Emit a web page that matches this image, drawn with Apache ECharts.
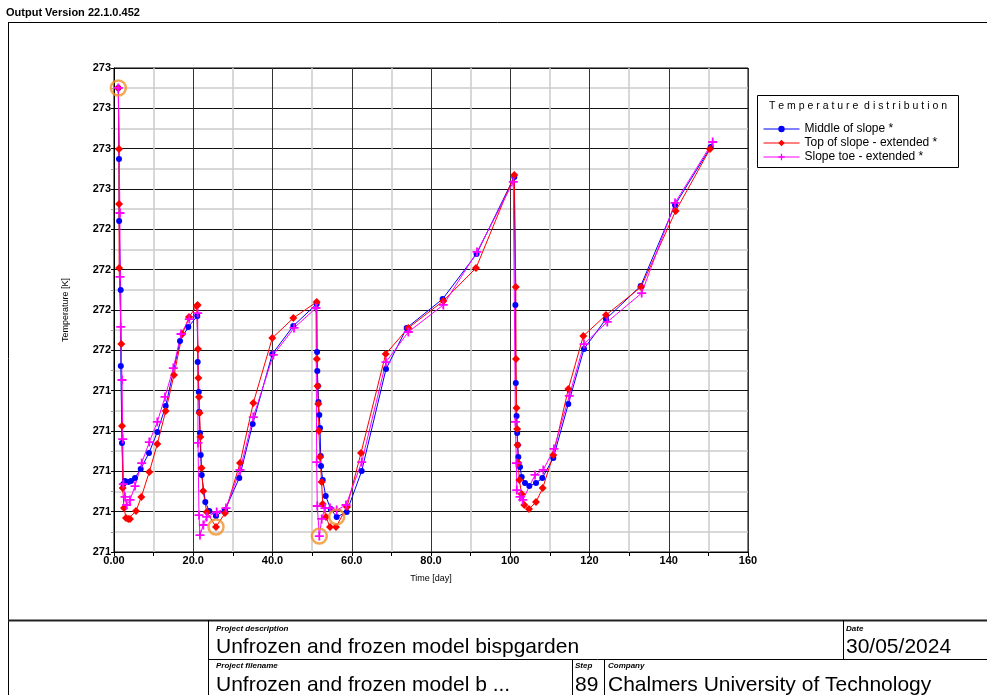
<!DOCTYPE html>
<html>
<head>
<meta charset="utf-8">
<script src="https://cdn.jsdelivr.net/npm/echarts@6/dist/echarts.min.js"></script>
<style>
html, body { margin: 0; padding: 0; background: #ffffff; }
#chart { width: 987px; height: 695px; }
</style>
</head>
<body>
<div id="chart"></div>
<script>
// Temperature history [day, K] for the three monitored points
const middleOfSlope = [
  [1.09,273.301],[1.26,272.949],[1.30,272.641],[1.69,272.299],[1.72,271.922],[2.02,271.541],[2.35,271.337],[2.78,271.352],[3.61,271.347],[4.29,271.352],[5.30,271.367],[6.74,271.412],[8.83,271.491],[10.93,271.595],[13.05,271.724],[16.66,272.046],[18.75,272.116],[21.02,272.170],
  [21.12,271.942],[21.40,271.793],[21.50,271.694],[21.70,271.590],[21.88,271.481],[22.13,271.382],[23.04,271.248],[24.05,271.203],[25.74,271.179],[28.01,271.208],[31.62,271.367],[35.00,271.635],[39.95,271.982],[45.25,272.121],[51.15,272.230],
  [51.25,271.992],[51.31,271.898],[51.48,271.823],[51.60,271.744],[51.81,271.679],[51.99,271.615],[52.16,271.476],[52.24,271.426],[52.67,271.357],[53.43,271.278],[54.69,271.213],[56.20,271.174],[58.73,271.198],[62.51,271.402],[68.64,271.907],[73.87,272.111],[82.95,272.255],[91.50,272.478],[101.02,272.860],
  [101.30,272.225],[101.40,271.838],[101.60,271.674],[101.75,271.590],[101.90,271.531],[102.03,271.471],[102.46,271.421],[102.89,271.372],[103.72,271.342],[104.81,271.327],[106.50,271.342],[108.09,271.367],[110.86,271.466],[114.65,271.734],[118.61,272.007],[124.16,272.155],[132.92,272.319],[141.58,272.721],[150.59,273.008]
];
const topOfSlope = [
  [1.09,273.301],[1.26,272.998],[1.28,272.726],[1.30,272.408],[1.84,272.031],[2.02,271.625],[2.20,271.317],[2.52,271.218],[3.03,271.169],[3.61,271.164],[4.04,271.164],[5.55,271.203],[6.89,271.273],[8.91,271.397],[10.93,271.536],[13.05,271.699],[15.14,271.878],[17.24,272.081],[18.93,272.165],[20.87,272.220],[21.10,272.225],
  [21.20,272.007],[21.30,271.863],[21.45,271.769],[21.60,271.689],[21.80,271.570],[22.10,271.417],[22.50,271.302],[23.40,271.198],[25.74,271.124],[28.01,271.193],[31.80,271.441],[35.15,271.739],[39.95,272.061],[45.25,272.160],[51.15,272.240],
  [51.20,271.957],[51.35,271.823],[51.56,271.734],[51.70,271.600],[52.00,271.471],[52.40,271.347],[52.67,271.238],[53.50,271.174],[54.51,271.124],[56.02,271.124],[58.80,271.223],[62.33,271.491],[68.57,271.982],[74.27,272.111],[83.10,272.245],[91.36,272.408],[101.02,272.869],
  [101.40,272.314],[101.45,271.957],[101.60,271.714],[101.75,271.610],[101.85,271.531],[102.03,271.441],[102.28,271.357],[102.89,271.288],[103.55,271.233],[104.73,271.213],[106.50,271.248],[108.19,271.317],[110.86,271.481],[114.65,271.808],[118.44,272.071],[124.16,272.175],[133.00,272.314],[141.75,272.691],[150.41,272.998]
];
const slopeToe = [
  [1.09,273.301],[1.50,272.681],[1.52,272.364],[1.69,272.116],[2.02,271.853],[2.20,271.560],[2.35,271.337],[2.78,271.273],[3.20,271.233],[4.04,271.258],[5.30,271.327],[6.99,271.441],[8.91,271.545],[10.93,271.645],[12.87,271.769],[14.97,271.912],[16.91,272.081],[19.00,272.155],[21.12,272.185],
  [21.20,271.541],[21.45,271.183],[21.70,271.084],[22.54,271.134],[23.39,271.174],[25.92,271.198],[28.26,271.218],[31.80,271.407],[35.15,271.669],[40.20,271.977],[45.43,272.111],[50.98,272.210],
  [51.15,271.446],[51.30,271.228],[51.81,271.079],[52.42,271.164],[53.25,271.218],[54.51,271.218],[56.20,271.208],[58.55,271.233],[62.51,271.446],[68.64,271.942],[74.27,272.091],[83.10,272.225],[91.61,272.488],[100.77,272.835],
  [101.30,271.645],[101.55,271.441],[101.65,271.307],[102.46,271.273],[103.14,271.258],[106.25,271.382],[108.34,271.407],[111.04,271.511],[114.90,271.774],[118.61,272.031],[124.49,272.141],[133.17,272.284],[141.58,272.731],[151.09,273.033]
];

const seriesNames = ['Middle of slope *', 'Top of slope - extended *', 'Slope toe - extended *'];
const xTickLabels = ['0.00', '20.0', '40.0', '60.0', '80.0', '100', '120', '140', '160'];
const yTickLabels = ['271', '271', '271', '271', '271', '272', '272', '272', '272', '273', '273', '273', '273'];

const X_MIN = 0, X_MAX = 160, X_STEP = 20;
const Y_MIN = 271.0, Y_MAX = 273.4, Y_STEP = 0.2;

const NARROW = '"Liberation Sans Narrow", "Liberation Sans", Arial, sans-serif';
const SANS = '"Liberation Sans", Arial, sans-serif';

// Highlight the overall maximum and each curve's minimum with a ring
function extremes() {
  const all = [middleOfSlope, topOfSlope, slopeToe];
  let maxPt = all[0][0];
  all.forEach(s => s.forEach(p => { if (p[1] > maxPt[1]) maxPt = p; }));
  const pts = [maxPt];
  all.forEach(s => {
    let m = s[0];
    s.forEach(p => { if (p[1] < m[1]) m = p; });
    pts.push(m);
  });
  return pts;
}

const chart = echarts.init(document.getElementById('chart'), null, { renderer: 'canvas' });

const plusSymbol = 'path://M4,0H6V4H10V6H6V10H4V6H0V4H4Z';

function lineSeries(name, data, color, symbol, size) {
  return {
    name: name,
    type: 'line',
    data: data,
    symbol: symbol,
    symbolSize: size,
    showSymbol: true,
    showAllSymbol: true,
    color: color,
    lineStyle: { color: color, width: 1 },
    itemStyle: { color: color },
    emphasis: { disabled: true },
    animation: false
  };
}

const option = {
  animation: false,
  backgroundColor: '#ffffff',
  grid: {
    left: 114, top: 68, width: 634, height: 484,
    show: true, borderColor: '#000000', borderWidth: 1, backgroundColor: '#ffffff',
    containLabel: false, outerBoundsMode: 'none'
  },
  xAxis: {
    type: 'value', min: X_MIN, max: X_MAX, interval: X_STEP,
    name: 'Time [day]', nameLocation: 'middle', nameGap: 22,
    nameTextStyle: { fontFamily: NARROW, fontSize: 9, color: '#000' },
    axisLine: { show: true, lineStyle: { color: '#000', width: 1 } },
    axisTick: { show: true, length: 4, lineStyle: { color: '#000' } },
    minorTick: { show: true, splitNumber: 2, length: 4, lineStyle: { color: '#000' } },
    splitLine: { show: true, lineStyle: { color: '#333333', width: 1 } },
    minorSplitLine: { show: true, lineStyle: { color: '#cccccc', width: 1.5 } },
    axisLabel: {
      margin: 3, fontFamily: NARROW, fontWeight: 'bold', fontSize: 11, color: '#000',
      formatter: v => xTickLabels[Math.round((v - X_MIN) / X_STEP)] || ''
    }
  },
  yAxis: {
    type: 'value', min: Y_MIN, max: Y_MAX, interval: Y_STEP,
    name: 'Temperature [K]', nameLocation: 'middle', nameGap: 44,
    nameTextStyle: { fontFamily: NARROW, fontSize: 9, color: '#000' },
    axisLine: { show: true, lineStyle: { color: '#000', width: 1 } },
    axisTick: { show: true, length: 3, lineStyle: { color: '#000' } },
    minorTick: { show: true, splitNumber: 2, length: 3, lineStyle: { color: '#999' } },
    splitLine: { show: true, lineStyle: { color: '#111111', width: 1 } },
    minorSplitLine: { show: true, lineStyle: { color: '#cccccc', width: 1.5 } },
    axisLabel: {
      margin: 3, fontFamily: NARROW, fontWeight: 'bold', fontSize: 11, color: '#000',
      formatter: v => yTickLabels[Math.round((v - Y_MIN) / Y_STEP)] || ''
    }
  },
  legend: {
    show: true, orient: 'vertical', left: 763, top: 123,
    itemWidth: 36, itemHeight: 8, itemGap: 2, padding: 0,
    data: seriesNames,
    lineStyle: { width: 1 },
    textStyle: { fontFamily: SANS, fontSize: 12, color: '#000' },
    selectedMode: false
  },
  series: [
    lineSeries(seriesNames[0], middleOfSlope, '#0000ff', 'circle', 6),
    lineSeries(seriesNames[1], topOfSlope, '#ff0000', 'diamond', 8),
    lineSeries(seriesNames[2], slopeToe, '#ff00ff', plusSymbol, 9),
    {
      name: 'extremes', type: 'scatter', data: extremes(),
      symbol: 'circle', symbolSize: 15, z: 5,
      itemStyle: { color: 'rgba(0,0,0,0)', borderColor: '#f0922b', borderWidth: 2.5 },
      emphasis: { disabled: true }, animation: false
    }
  ],
  graphic: [
    { type: 'text', left: 6, top: 7, style: { text: 'Output Version 22.1.0.452', font: 'bold 11px ' + NARROW, fill: '#000' } },
    // page frame
    { type: 'line', shape: { x1: 8, y1: 22.5, x2: 987, y2: 22.5 }, style: { stroke: '#000', lineWidth: 1 } },
    { type: 'line', shape: { x1: 8.5, y1: 22, x2: 8.5, y2: 695 }, style: { stroke: '#000', lineWidth: 1 } },
    // legend box
    { type: 'rect', shape: { x: 757.5, y: 95.5, width: 201, height: 72 }, style: { fill: 'none', stroke: '#000', lineWidth: 1 } },
    { type: 'text', x: 858, y: 106, style: { text: 'T e m p e r a t u r e  d i s t r i b u t i o n', font: '10.5px ' + SANS, fill: '#000', textAlign: 'center', textVerticalAlign: 'middle' } },
    // title block
    { type: 'line', shape: { x1: 8, y1: 620.5, x2: 987, y2: 620.5 }, style: { stroke: '#222', lineWidth: 2 } },
    { type: 'line', shape: { x1: 208.5, y1: 620, x2: 208.5, y2: 695 }, style: { stroke: '#000', lineWidth: 1 } },
    { type: 'line', shape: { x1: 208, y1: 659.5, x2: 987, y2: 659.5 }, style: { stroke: '#000', lineWidth: 1 } },
    { type: 'line', shape: { x1: 843.5, y1: 620, x2: 843.5, y2: 659 }, style: { stroke: '#000', lineWidth: 1 } },
    { type: 'line', shape: { x1: 572.5, y1: 659, x2: 572.5, y2: 695 }, style: { stroke: '#000', lineWidth: 1 } },
    { type: 'line', shape: { x1: 604.5, y1: 659, x2: 604.5, y2: 695 }, style: { stroke: '#000', lineWidth: 1 } },
    { type: 'text', x: 216, y: 629, style: { text: 'Project description', font: 'italic bold 8px ' + NARROW, fill: '#000', textVerticalAlign: 'middle' } },
    { type: 'text', x: 216, y: 647, style: { text: 'Unfrozen and frozen model bispgarden', font: '21px ' + SANS, fill: '#000', textVerticalAlign: 'middle' } },
    { type: 'text', x: 846, y: 629, style: { text: 'Date', font: 'italic bold 8px ' + NARROW, fill: '#000', textVerticalAlign: 'middle' } },
    { type: 'text', x: 846, y: 647, style: { text: '30/05/2024', font: '21px ' + SANS, fill: '#000', textVerticalAlign: 'middle' } },
    { type: 'text', x: 216, y: 666, style: { text: 'Project filename', font: 'italic bold 8px ' + NARROW, fill: '#000', textVerticalAlign: 'middle' } },
    { type: 'text', x: 216, y: 685, style: { text: 'Unfrozen and frozen model b ...', font: '21px ' + SANS, fill: '#000', textVerticalAlign: 'middle' } },
    { type: 'text', x: 575, y: 666, style: { text: 'Step', font: 'italic bold 8px ' + NARROW, fill: '#000', textVerticalAlign: 'middle' } },
    { type: 'text', x: 575, y: 685, style: { text: '89', font: '21px ' + SANS, fill: '#000', textVerticalAlign: 'middle' } },
    { type: 'text', x: 608, y: 666, style: { text: 'Company', font: 'italic bold 8px ' + NARROW, fill: '#000', textVerticalAlign: 'middle' } },
    { type: 'text', x: 608, y: 685, style: { text: 'Chalmers University of Technology', font: '21px ' + SANS, fill: '#000', textVerticalAlign: 'middle' } }
  ]
};

chart.setOption(option);
</script>
</body>
</html>
